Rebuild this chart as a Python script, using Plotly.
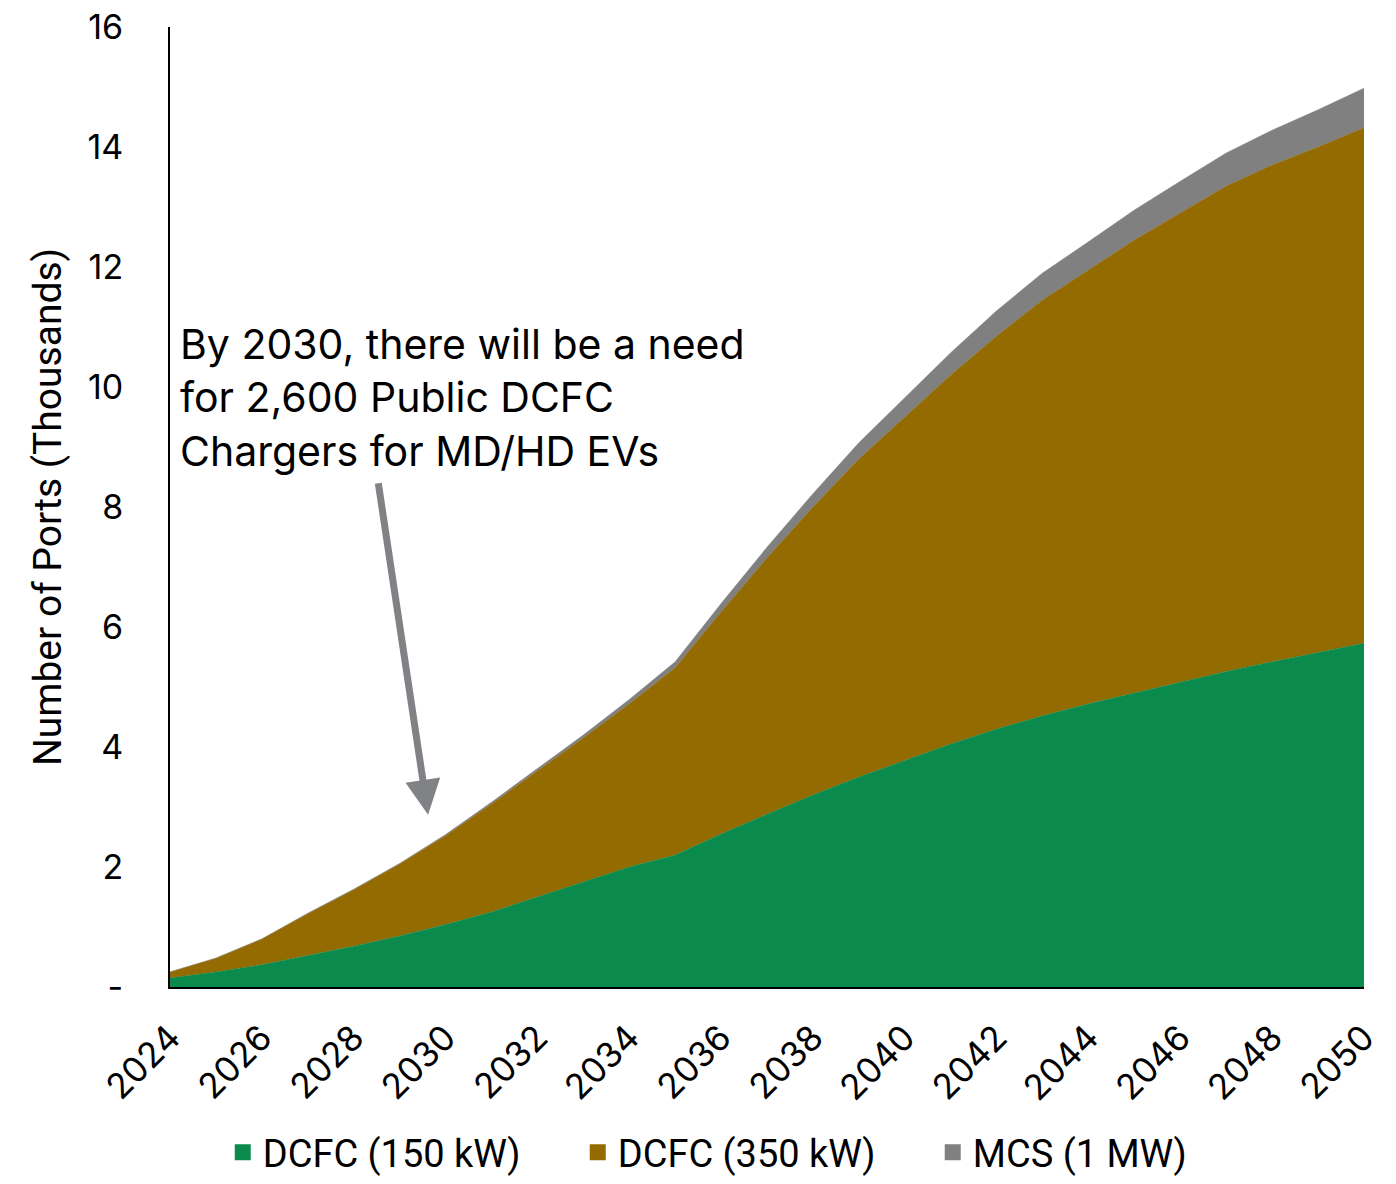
import plotly.graph_objects as go

years = list(range(2024, 2051))
# cumulative readings (thousands)
dcfc150 = [0.15, 0.25, 0.37, 0.52, 0.68, 0.85, 1.04, 1.25, 1.50, 1.76, 2.00, 2.20, 2.55, 2.88, 3.20,
           3.50, 3.78, 4.05, 4.30, 4.52, 4.72, 4.90, 5.08, 5.26, 5.42, 5.57, 5.73]
top350 = [0.25, 0.48, 0.80, 1.22, 1.62, 2.05, 2.52, 3.05, 3.60, 4.15, 4.72, 5.32, 6.25, 7.15, 8.00,
          8.80, 9.50, 10.20, 10.85, 11.45, 11.95, 12.45, 12.90, 13.35, 13.70, 14.00, 14.32]
dcfc350 = [round(t - g, 3) for t, g in zip(top350, dcfc150)]
mcs = [0.0, 0.0, 0.0, 0.01, 0.01, 0.01, 0.02, 0.03, 0.04, 0.05, 0.07, 0.10, 0.14, 0.18, 0.22,
       0.27, 0.32, 0.37, 0.42, 0.45, 0.47, 0.50, 0.53, 0.55, 0.58, 0.62, 0.66]

series = [("DCFC (150 kW)", dcfc150, "#0B8A4E"),
          ("DCFC (350 kW)", dcfc350, "#946B00"),
          ("MCS (1 MW)", mcs, "#808080")]

ytickvals = list(range(0, 17, 2))
yticktext = ["-"] + [str(v) for v in ytickvals[1:]]
xtickvals = list(range(2024, 2051, 2))

FONT = "Inter"

fig = go.Figure()
for name, vals, col in series:
    fig.add_trace(go.Scatter(x=years, y=vals, name=name, stackgroup="one", mode="lines",
                             line=dict(width=0.5, color=col), fillcolor=col, showlegend=False))
# legend entries as square swatches
for name, vals, col in series:
    fig.add_trace(go.Scatter(x=[None], y=[None], name=name, mode="markers",
                             marker=dict(symbol="square", size=22, color=col)))

fig.update_layout(
    width=1396, height=1184,
    margin=dict(l=170, r=32, t=27, b=197),
    plot_bgcolor="white", paper_bgcolor="white",
    font=dict(family=FONT, size=34, color="black"),
    showlegend=True,
    legend=dict(orientation="h", x=0.541, xanchor="center", xref="container",
                y=0.0, yanchor="bottom", yref="container",
                font=dict(family="Roboto", size=38), itemwidth=30, traceorder="normal",
                entrywidth=310),
    xaxis=dict(range=[2024, 2050], tickvals=xtickvals, tickangle=-45, showgrid=False,
               showline=True, linecolor="black", linewidth=2, ticks="", zeroline=False,
               tickfont=dict(size=35), automargin=False, ticklabelstandoff=14),
    yaxis=dict(range=[0, 16], tickvals=ytickvals, ticktext=yticktext, showgrid=False,
               showline=True, linecolor="black", linewidth=2, ticks="", zeroline=False,
               ticklabelstandoff=38, tickfont=dict(size=34), automargin=False,
               title=dict(text="Number of Ports (Thousands)", font=dict(family="Roboto", size=39),
                          standoff=14)),
    annotations=[
        dict(x=2024.18, y=11.17, xref="x", yref="y", xanchor="left", yanchor="top", align="left",
             text="By 2030, there will be a need<br>for 2,600 Public DCFC<br>Chargers for MD/HD EVs",
             showarrow=False, font=dict(family=FONT, size=41, color="black")),
        dict(x=2029.62, y=2.87, xref="x", yref="y", text="", showarrow=True,
             ax=-50, ay=-333, axref="pixel", ayref="pixel", arrowhead=2, arrowsize=1,
             arrowwidth=7, arrowcolor="#808285"),
    ],
)

fig.write_html("out.html")
